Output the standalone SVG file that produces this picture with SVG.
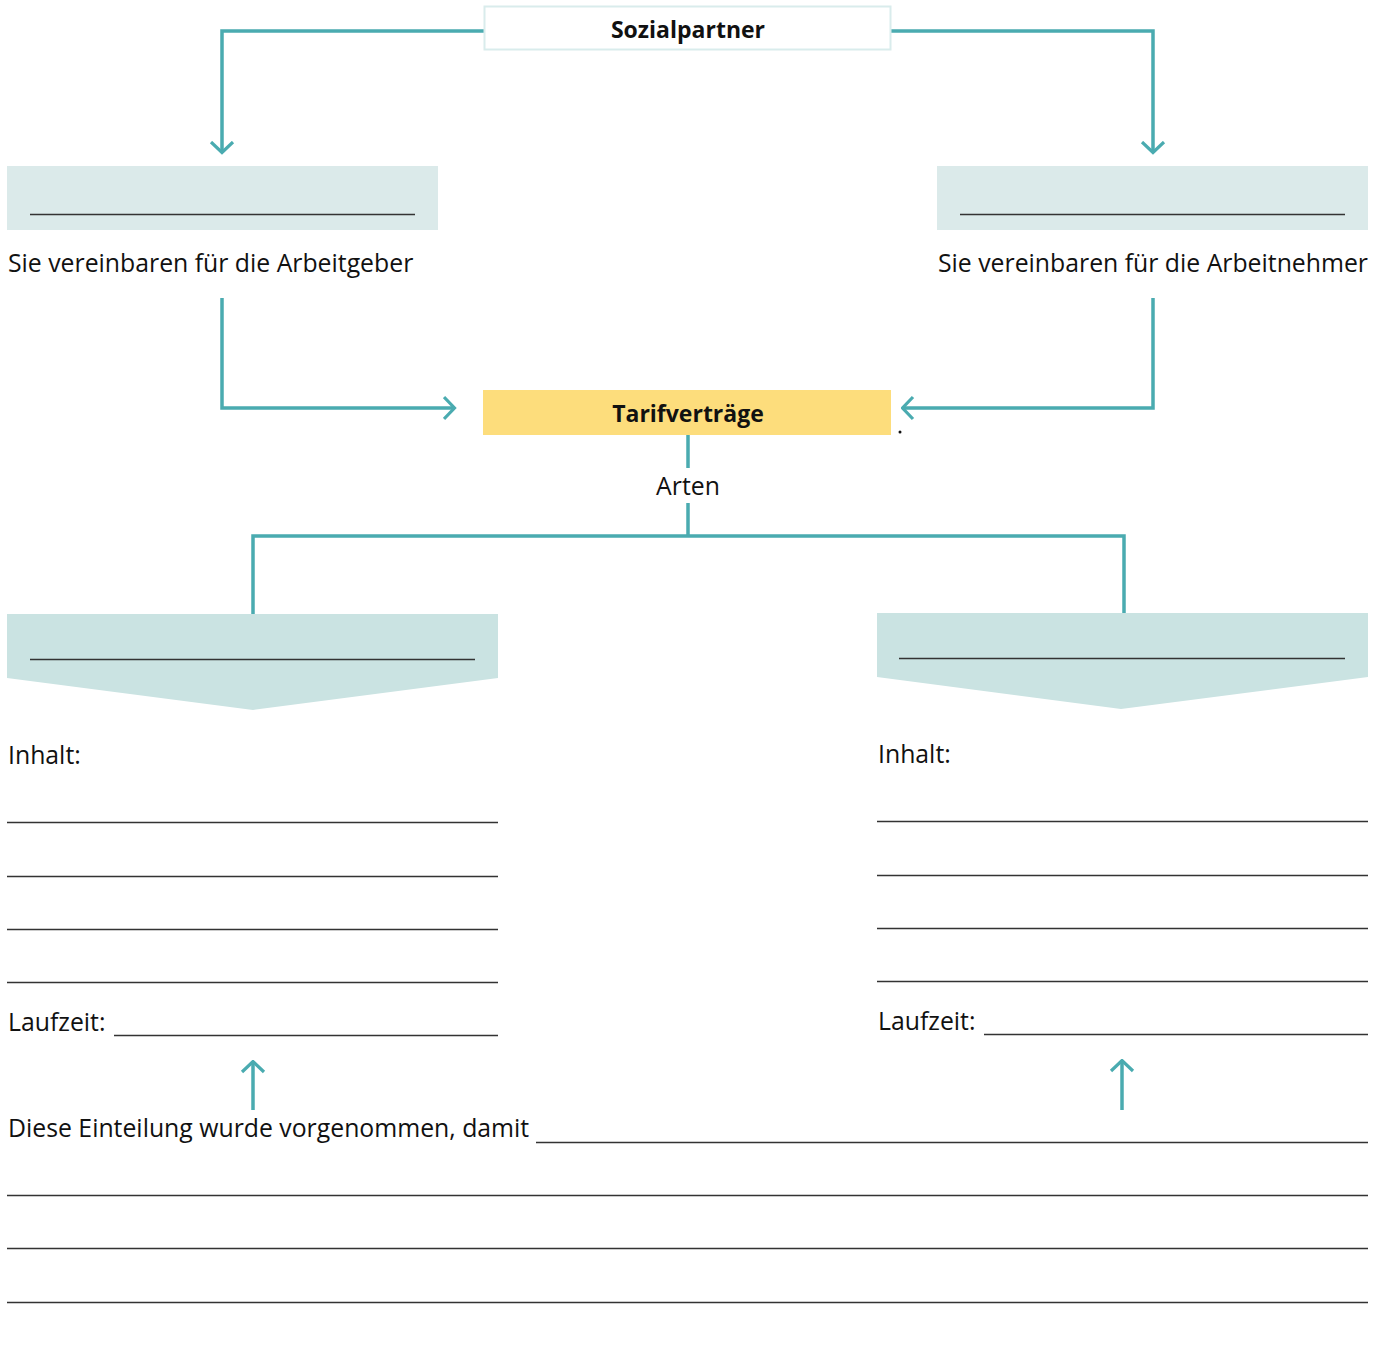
<svg xmlns="http://www.w3.org/2000/svg" width="1385" height="1355" viewBox="0 0 1385 1355">
<defs>
<style>
.t{font-family:"Open Sans","Noto Sans","Liberation Sans",sans-serif;font-size:24.8px;fill:#111}
.b{font-weight:bold;font-size:23px}
.c{fill:none;stroke:#4aabb0;stroke-width:3.5}
.l{stroke:#333;stroke-width:1.3}
</style>
<marker id="ah" viewBox="0 0 14 26" refX="12.5" refY="13" markerWidth="14" markerHeight="26" markerUnits="userSpaceOnUse" orient="auto">
<path d="M1.5,2 L12,13 L1.5,24" fill="none" stroke="#4aabb0" stroke-width="3.2"/>
</marker>
</defs>
<rect width="1385" height="1355" fill="#fff"/>
<g id="connectors">
<path class="c" d="M484,31 H222 V153" marker-end="url(#ah)"/>
<path class="c" d="M891,31 H1153 V153" marker-end="url(#ah)"/>
<path class="c" d="M222,298 V408 H455" marker-end="url(#ah)"/>
<path class="c" d="M1153,298 V408 H902" marker-end="url(#ah)"/>
<path class="c" d="M688,435 V468 M688,503 V536 M253,614 V536 H1124 V613"/>
<path class="c" d="M253,1110 V1061" marker-end="url(#ah)"/>
<path class="c" d="M1122,1110 V1060" marker-end="url(#ah)"/>
</g>
<g id="sozialpartner">
<rect x="484.5" y="6.5" width="406" height="43" fill="#fff" stroke="#d9ecec" stroke-width="2"/>
<text class="t b" x="688" y="38" text-anchor="middle">Sozialpartner</text>
</g>
<g id="arbeitgeber">
<rect x="7" y="166" width="431" height="64" fill="#dbeaea"/>
<line class="l" x1="30" y1="214.5" x2="415" y2="214.5"/>
<text class="t" x="8" y="272">Sie vereinbaren für die Arbeitgeber</text>
</g>
<g id="arbeitnehmer">
<rect x="937" y="166" width="431" height="64" fill="#dbeaea"/>
<line class="l" x1="960" y1="214.5" x2="1345" y2="214.5"/>
<text class="t" x="938" y="272">Sie vereinbaren für die Arbeitnehmer</text>
</g>
<g id="tarifvertraege">
<rect x="483" y="390" width="408" height="45" fill="#fddd7c"/>
<text class="t b" x="688" y="422" text-anchor="middle">Tarifverträge</text>
<circle cx="900" cy="432" r="1.5" fill="#111"/>
</g>
<g id="arten">
<text class="t" x="688" y="495" text-anchor="middle">Arten</text>
</g>
<g id="art-links">
<path d="M7,614 H498 V678 L253,710 L7,678 Z" fill="#cae3e2"/>
<line class="l" x1="30" y1="659.5" x2="475" y2="659.5"/>
<text class="t" x="8" y="764">Inhalt:</text>
<g class="l">
<line x1="7" y1="822.5" x2="498" y2="822.5"/>
<line x1="7" y1="876.5" x2="498" y2="876.5"/>
<line x1="7" y1="929.5" x2="498" y2="929.5"/>
<line x1="7" y1="982.5" x2="498" y2="982.5"/>
<line x1="114" y1="1035.5" x2="498" y2="1035.5"/>
</g>
<text class="t" x="8" y="1031">Laufzeit:</text>
</g>
<g id="art-rechts">
<path d="M877,613 H1368 V677 L1121,709 L877,677 Z" fill="#cae3e2"/>
<line class="l" x1="899" y1="658.5" x2="1345" y2="658.5"/>
<text class="t" x="878" y="763">Inhalt:</text>
<g class="l">
<line x1="877" y1="821.5" x2="1368" y2="821.5"/>
<line x1="877" y1="875.5" x2="1368" y2="875.5"/>
<line x1="877" y1="928.5" x2="1368" y2="928.5"/>
<line x1="877" y1="981.5" x2="1368" y2="981.5"/>
<line x1="984" y1="1034.5" x2="1368" y2="1034.5"/>
</g>
<text class="t" x="878" y="1030">Laufzeit:</text>
</g>
<g id="einteilung">
<text class="t" x="8" y="1137">Diese Einteilung wurde vorgenommen, damit</text>
<g class="l">
<line x1="536" y1="1142.5" x2="1368" y2="1142.5"/>
<line x1="7" y1="1195.5" x2="1368" y2="1195.5"/>
<line x1="7" y1="1248.5" x2="1368" y2="1248.5"/>
<line x1="7" y1="1302.5" x2="1368" y2="1302.5"/>
</g>
</g>
</svg>
